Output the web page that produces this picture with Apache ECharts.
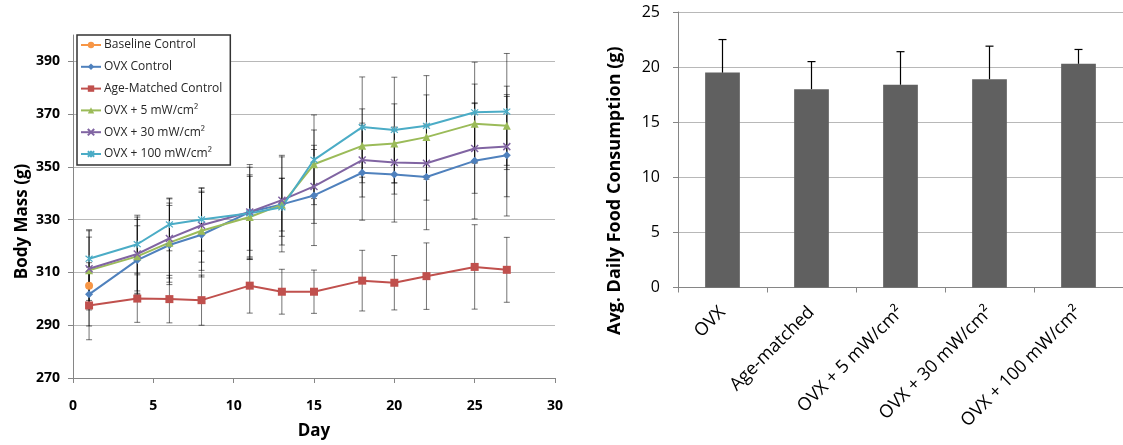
<!DOCTYPE html>
<html>
<head>
<meta charset="utf-8">
<script src="https://cdn.jsdelivr.net/npm/echarts@6/dist/echarts.min.js"></script>
<style>
html, body { margin: 0; padding: 0; background: #fff; }
#main { width: 1123px; height: 445px; }
</style>
</head>
<body>
<div id="main"></div>
<script>
// body mass over time (left panel)
var days = [1, 4, 6, 8, 11, 13, 15, 18, 20, 22, 25, 27];
var baselineDay = [1];
var baselineMass = [305];
var baselineSd = [7];
var ovxMass = [301.7, 314.7, 320.4, 324.3, 332.9, 335.8, 339.2, 347.8, 347.1, 346.2, 352.3, 354.4];
var ovxSd = [12, 13, 15, 16, 18, 18, 19, 18, 18, 20, 22, 23];
var ageMass = [297.5, 300.1, 299.9, 299.5, 305, 302.7, 302.7, 306.9, 306.1, 308.6, 312.1, 311];
var ageSd = [13, 9, 9, 9.5, 10.4, 8.5, 8.2, 11.5, 10.3, 12.6, 16, 12.3];
var ovx5Mass = [310.8, 316.1, 321.3, 325.8, 331, 335.7, 351, 358, 358.9, 361.3, 366.4, 365.6];
var ovx5Sd = [15, 14, 15, 15, 16, 10, 13, 14, 15, 16, 15, 15];
var ovx30Mass = [311.4, 317, 322.9, 327.9, 332.9, 337.4, 342.6, 352.6, 351.7, 351.4, 357, 357.7];
var ovx30Sd = [12, 14, 15, 14, 17, 17, 14, 14, 12, 14, 17, 19];
var ovx100Mass = [315.2, 320.7, 328.2, 330.1, 332.4, 334.7, 352.7, 365.1, 364, 365.6, 370.7, 371];
var ovx100Sd = [11, 11, 10, 12, 14, 11, 17, 19, 20, 19, 19, 22];
var massTicks = [270, 290, 310, 330, 350, 370, 390];

// food consumption (right panel)
var foodGroups = ['OVX', 'Age-matched', 'OVX + 5 mW/cm\u00b2', 'OVX + 30 mW/cm\u00b2', 'OVX + 100 mW/cm\u00b2'];
var foodMean = [19.5, 18.0, 18.4, 18.9, 20.3];
var foodErr = [3.0, 2.5, 3.0, 3.0, 1.3];

var FONT = 'Open Sans';
var AXIS = '#868686';
var GRID = '#b8b8b8';

function pairs(xs, ys) {
    return ys.map(function (y, i) { return [xs[i], y]; });
}
function ranges(xs, ys, sd) {
    return ys.map(function (y, i) { return [xs[i], y - sd[i], y + sd[i]]; });
}

function errBar(params, api) {
    var x = api.value(0);
    var lo = api.coord([x, api.value(1)]);
    var hi = api.coord([x, api.value(2)]);
    var c = 3;
    var st = { stroke: '#000', lineWidth: 1, opacity: 0.55 };
    return {
        type: 'group',
        children: [
            { type: 'line', shape: { x1: lo[0], y1: lo[1], x2: hi[0], y2: hi[1] }, style: st },
            { type: 'line', shape: { x1: lo[0] - c, y1: lo[1], x2: lo[0] + c, y2: lo[1] }, style: st },
            { type: 'line', shape: { x1: hi[0] - c, y1: hi[1], x2: hi[0] + c, y2: hi[1] }, style: st }
        ]
    };
}

function upperBar(params, api) {
    var x = api.value(0);
    var lo = api.coord([x, api.value(1)]);
    var hi = api.coord([x, api.value(2)]);
    var st = { stroke: '#000', lineWidth: 1.2 };
    return {
        type: 'group',
        children: [
            { type: 'line', shape: { x1: lo[0], y1: lo[1], x2: hi[0], y2: hi[1] }, style: st },
            { type: 'line', shape: { x1: hi[0] - 4, y1: hi[1], x2: hi[0] + 4, y2: hi[1] }, style: st }
        ]
    };
}

var CROSS = 'path://M0,0L10,10M10,0L0,10';
var STAR = 'path://M0,0L10,10M10,0L0,10M5,-1L5,11';

function lineSeries(name, data, color, symbol, size, bw) {
    return {
        name: name,
        type: 'line',
        xAxisIndex: 0,
        yAxisIndex: 0,
        data: data,
        symbol: symbol,
        symbolSize: size,
        z: 3,
        lineStyle: { color: color, width: 2 },
        itemStyle: { color: color, borderColor: color, borderWidth: bw }
    };
}

function errSeries(name, data) {
    return {
        name: name,
        type: 'custom',
        xAxisIndex: 0,
        yAxisIndex: 0,
        renderItem: errBar,
        encode: { x: 0, y: [1, 2] },
        data: data,
        z: 1,
        silent: true
    };
}

var myChart = echarts.init(document.getElementById('main'));

var option = {
    animation: false,
    backgroundColor: '#fff',
    textStyle: { fontFamily: FONT },
    legend: {
        orient: 'vertical',
        left: 77,
        top: 35,
        padding: [3, 8, 4, 3],
        itemGap: 7.8,
        itemWidth: 20,
        itemHeight: 8,
        backgroundColor: '#fff',
        borderColor: '#333',
        borderWidth: 1.5,
        textStyle: { fontFamily: FONT, fontSize: 12, color: '#262626', lineHeight: 14, padding: [0, 0, 0, -2] },
        data: ['Baseline Control', 'OVX Control', 'Age-Matched Control',
            'OVX + 5 mW/cm\u00b2', 'OVX + 30 mW/cm\u00b2', 'OVX + 100 mW/cm\u00b2']
    },
    grid: [
        { left: 73, top: 35, width: 482, height: 346.5 },
        { left: 678, top: 12, width: 447, height: 275.5 }
    ],
    xAxis: [
        {
            gridIndex: 0,
            type: 'value',
            min: 0,
            max: 30,
            interval: 5,
            name: 'Day',
            nameLocation: 'middle',
            nameGap: 45,
            nameTextStyle: { fontFamily: FONT, fontWeight: 'bold', fontSize: 17, color: '#000' },
            axisLine: { lineStyle: { color: AXIS } },
            axisTick: { show: true, length: 5, lineStyle: { color: AXIS } },
            axisLabel: { fontFamily: FONT, fontWeight: 'bold', fontSize: 14, color: '#000', margin: 21 },
            splitLine: { show: false }
        },
        {
            gridIndex: 1,
            type: 'category',
            data: foodGroups,
            axisLine: { lineStyle: { color: AXIS } },
            axisTick: { show: true, length: 5, lineStyle: { color: AXIS } },
            axisLabel: { fontFamily: FONT, fontSize: 18, color: '#000', rotate: 45, margin: 22, interval: 0 },
            splitLine: { show: false }
        }
    ],
    yAxis: [
        {
            gridIndex: 0,
            type: 'value',
            min: 270,
            max: 400,
            interval: 10,
            name: 'Body Mass (g)',
            nameLocation: 'middle',
            nameGap: 42,
            nameTextStyle: { fontFamily: FONT, fontWeight: 'bold', fontSize: 17, color: '#000', padding: [0, 30, 0, 0] },
            axisLine: { show: true, lineStyle: { color: AXIS } },
            axisTick: { show: true, length: 5, customValues: massTicks, lineStyle: { color: AXIS } },
            axisLabel: { fontFamily: FONT, fontWeight: 'bold', fontSize: 14, color: '#000', margin: 13, customValues: massTicks },
            splitLine: { show: true, lineStyle: { color: GRID } }
        },
        {
            gridIndex: 1,
            type: 'value',
            min: 0,
            max: 25,
            interval: 5,
            name: 'Avg. Daily Food Consumption (g)',
            nameLocation: 'middle',
            nameGap: 54,
            nameTextStyle: { fontFamily: FONT, fontWeight: 'bold', fontSize: 18, color: '#000', padding: [0, 82, 0, 0] },
            axisLine: { show: true, lineStyle: { color: AXIS } },
            axisTick: { show: true, length: 5, lineStyle: { color: AXIS } },
            axisLabel: { fontFamily: FONT, fontSize: 16, color: '#000', margin: 18 },
            splitLine: { show: true, lineStyle: { color: GRID } }
        }
    ],
    series: [
        errSeries('err-base', ranges(baselineDay, baselineMass, baselineSd)),
        errSeries('err-ovx', ranges(days, ovxMass, ovxSd)),
        errSeries('err-age', ranges(days, ageMass, ageSd)),
        errSeries('err-5', ranges(days, ovx5Mass, ovx5Sd)),
        errSeries('err-30', ranges(days, ovx30Mass, ovx30Sd)),
        errSeries('err-100', ranges(days, ovx100Mass, ovx100Sd)),
        lineSeries('Baseline Control', pairs(baselineDay, baselineMass), '#F79646', 'circle', 8, 0),
        lineSeries('OVX Control', pairs(days, ovxMass), '#4F81BD', 'diamond', 8, 0),
        lineSeries('Age-Matched Control', pairs(days, ageMass), '#C0504D', 'rect', 8, 0),
        lineSeries('OVX + 5 mW/cm\u00b2', pairs(days, ovx5Mass), '#9BBB59', 'triangle', 8, 0),
        lineSeries('OVX + 30 mW/cm\u00b2', pairs(days, ovx30Mass), '#8064A2', CROSS, 7, 1.5),
        lineSeries('OVX + 100 mW/cm\u00b2', pairs(days, ovx100Mass), '#4BACC6', STAR, 7, 1.2),
        {
            name: 'Food',
            type: 'bar',
            xAxisIndex: 1,
            yAxisIndex: 1,
            data: foodMean,
            barWidth: '39%',
            itemStyle: { color: '#606060' },
            z: 2
        },
        {
            name: 'Food err',
            type: 'custom',
            xAxisIndex: 1,
            yAxisIndex: 1,
            renderItem: upperBar,
            encode: { x: 0, y: [1, 2] },
            data: foodMean.map(function (m, i) { return [i, m, m + foodErr[i]]; }),
            z: 3,
            silent: true
        }
    ]
};

myChart.setOption(option);
</script>
</body>
</html>
